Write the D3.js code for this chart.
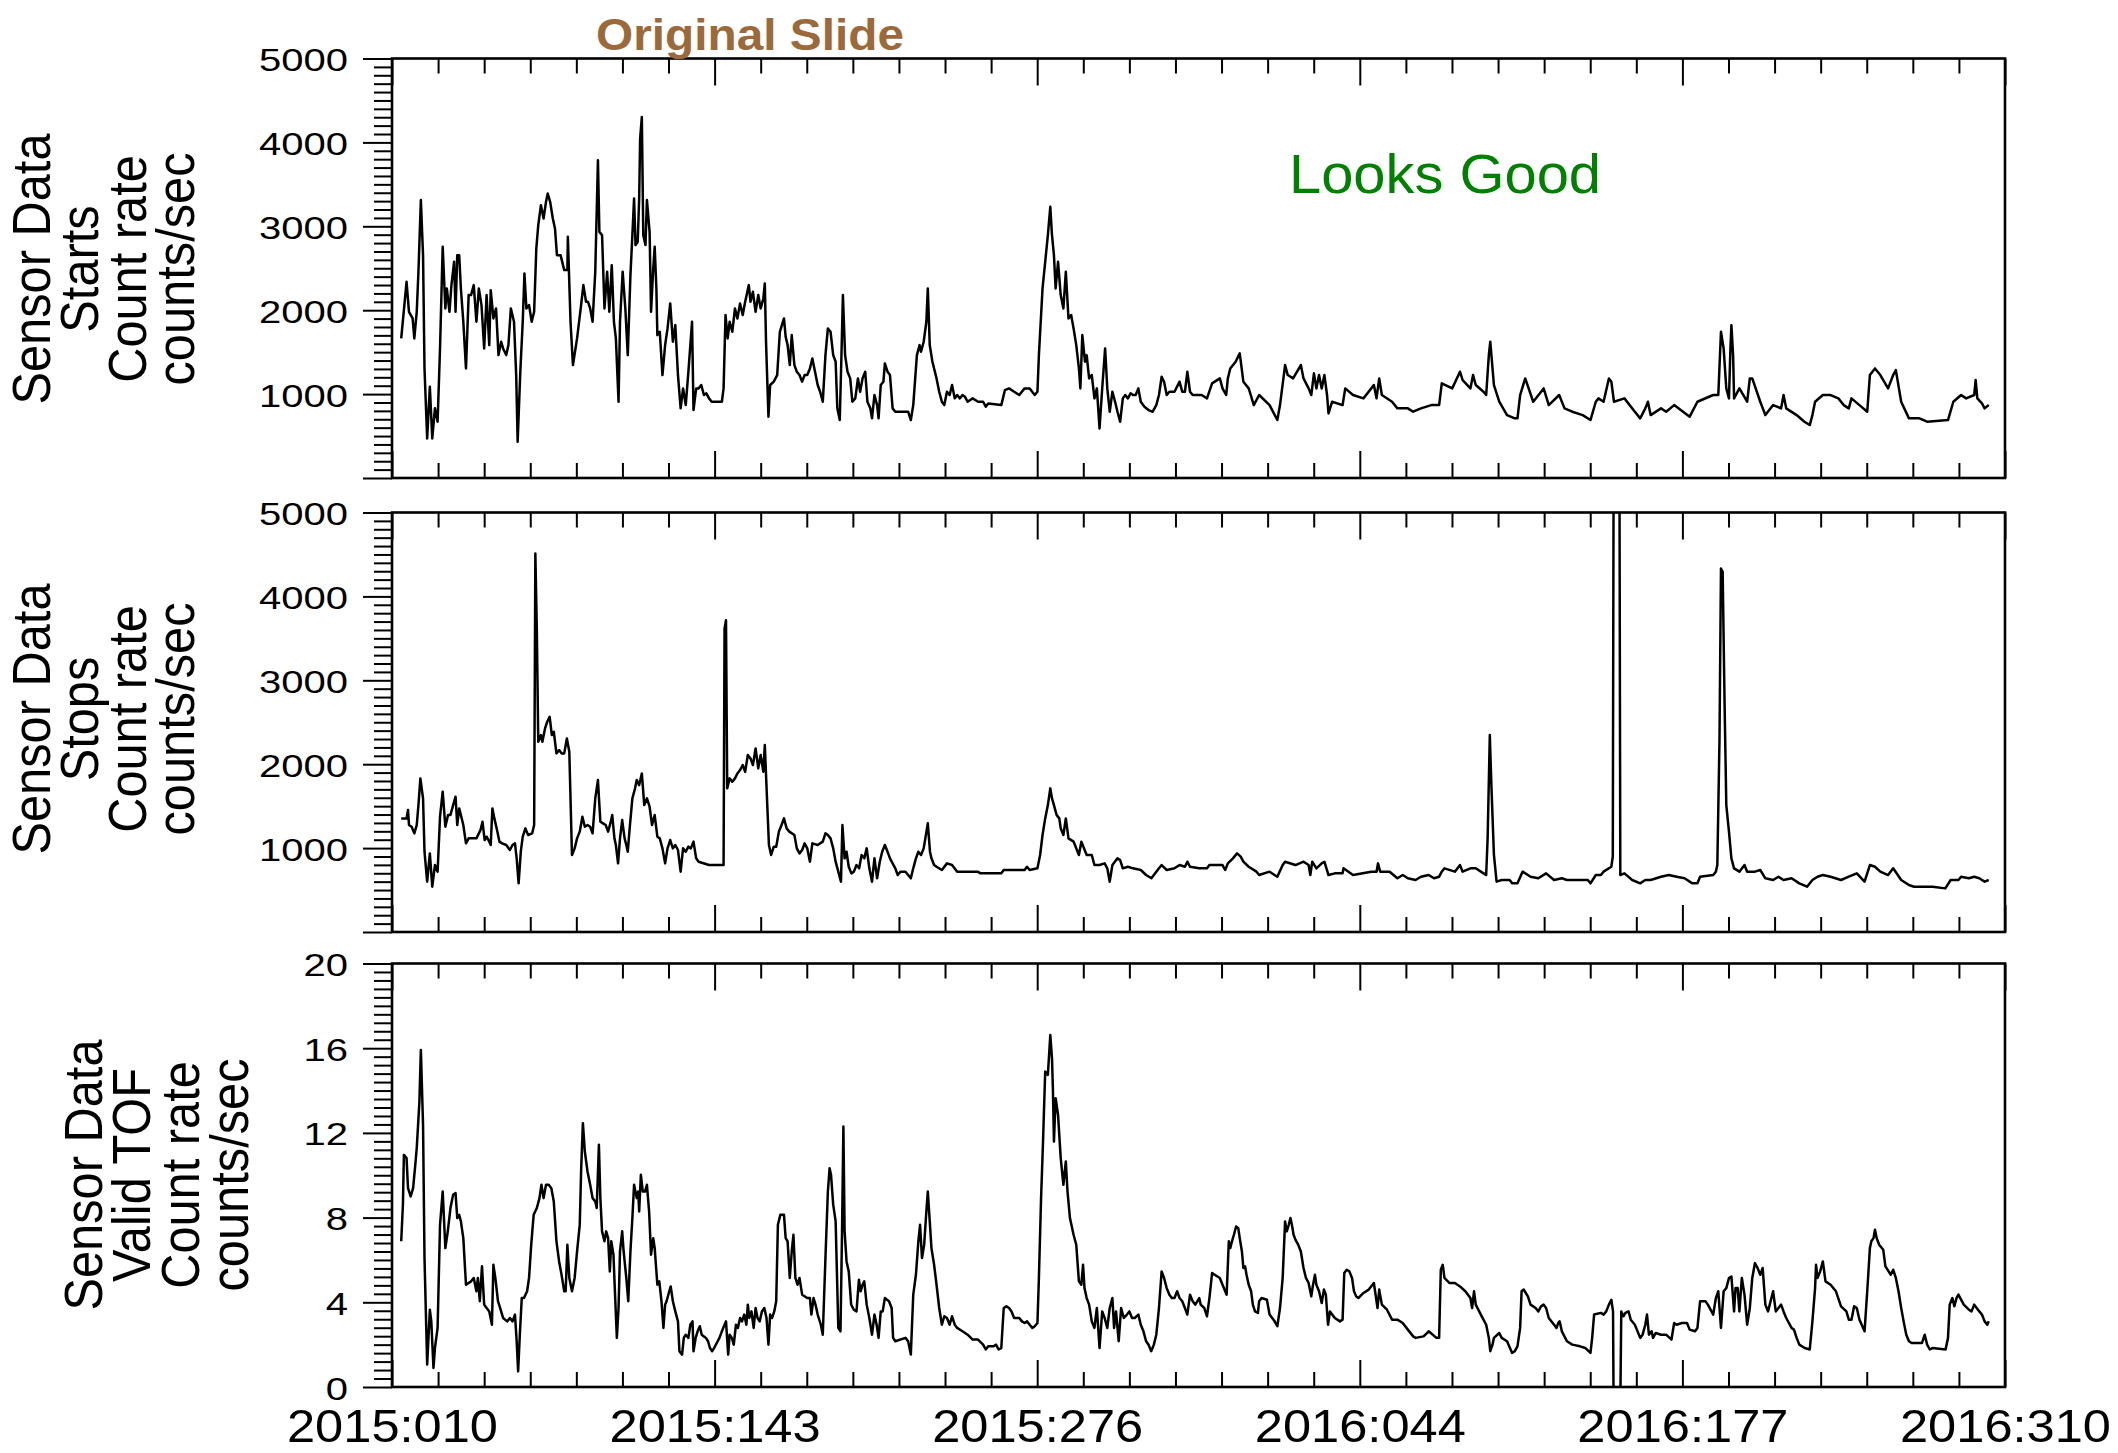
<!DOCTYPE html>
<html><head><meta charset="utf-8">
<script src="https://cdn.jsdelivr.net/npm/d3@7"></script>
<style>body{margin:0;background:#fff} svg{display:block}</style>
</head><body>
<svg id="chart" width="2118" height="1453"></svg>
<script>
// ---------- DATA (day = days since 2015:010) ----------
const xTickLabels = ["2015:010","2015:143","2015:276","2016:044","2016:177","2016:310"];
const xTickDays = [0,133,266,399,532,665];
const countTickValues = [1000,2000,3000,4000,5000];
const tofTickValues = [0,4,8,12,16,20];
const startsTitle = ["Sensor Data","Starts","Count rate","counts/sec"];
const stopsTitle = ["Sensor Data","Stops","Count rate","counts/sec"];
const tofTitle = ["Sensor Data","Valid TOF","Count rate","counts/sec"];
const slideTitle = "Original Slide";
const noteText = "Looks Good";

const starts = [[3.8,1664],[6,2339],[7,1981],[8.5,1902],[9.2,1664],[10.2,1981],[10.9,2458],[11.9,3312],[12.8,2656],[13.4,1306],[14.5,472],[15.6,1088],[16.6,472],[17.7,830],[18.8,671],[19.8,1544],[20.9,2756],[22,2021],[22.6,2259],[23.7,1981],[24.5,2299],[25.6,2577],[26.2,1981],[26.9,2656],[27.7,2656],[28.4,2259],[29.4,1862],[30.5,1306],[31.6,2180],[32.6,2180],[33.7,2299],[34.8,1862],[35.8,2259],[36.9,2061],[38,1544],[39,2180],[40.1,1584],[40.7,2239],[41.8,1902],[42.9,2021],[43.9,1465],[45,1624],[45.8,1544],[47.1,1465],[48,1584],[49,2021],[50.3,1862],[51.2,1227],[51.8,433],[52.9,1267],[53.9,1862],[54.6,2438],[55.4,2021],[56.5,2061],[57.6,1862],[58.6,1981],[59.5,2736],[60.3,3014],[61.4,3252],[62.5,3093],[63.5,3292],[64.2,3391],[65.2,3292],[66.3,3093],[67.2,2974],[68,2656],[69.5,2656],[71,2478],[72.3,2478],[72.5,2875],[73.6,1862],[74.6,1346],[76.3,1664],[77.8,2021],[78.9,2299],[80,2100],[80.8,2100],[81.7,2021],[82.7,1862],[83.8,2458],[84.9,3788],[85.5,2934],[86.6,2895],[87.6,2021],[88.7,2458],[89.6,1981],[90.6,2537],[91.5,1862],[92.3,1664],[93.4,909],[94,1862],[95.1,2458],[96.2,2021],[97.2,1465],[98.3,2418],[99.1,2895],[99.8,3332],[100.4,2776],[101.3,2815],[101.9,3332],[102.3,4046],[103,4304],[103.6,2895],[104.5,2776],[105.1,3312],[106.2,2934],[106.8,1981],[107.7,2497],[108.3,2756],[109,2259],[109.4,1703],[110.4,1743],[111.5,1227],[112.6,1584],[113.6,1783],[114.7,2081],[115.8,1624],[116.8,1822],[117.9,1227],[119,830],[120,1068],[121.1,869],[122.2,1267],[123.2,1664],[123.7,1862],[124.3,810],[125.4,1068],[126.4,1068],[127.5,1108],[128.6,989],[129.6,1009],[130.7,949],[131.8,909],[136,909],[136.7,1068],[137.5,1942],[138.4,1664],[139.2,1862],[140.3,1743],[141.4,2021],[142.4,1902],[143.5,2081],[144.6,1942],[145.6,2100],[147.1,2299],[147.8,2100],[148.8,2219],[149.9,1981],[151,2180],[152,2021],[153.1,2140],[153.7,2319],[154.2,1624],[155.2,730],[155.9,1108],[157.4,1148],[158.8,1227],[159.9,1743],[161.6,1902],[162.3,1683],[163.1,1584],[164,1346],[164.8,1703],[165.9,1346],[166.9,1267],[168,1227],[169.1,1148],[170.1,1227],[171.2,1227],[172.3,1306],[173.3,1425],[174.4,1267],[175.5,1108],[176.5,1028],[177.6,909],[178.7,1465],[179.7,1783],[180.8,1743],[181.9,1465],[182.9,1386],[183.6,830],[184.6,691],[185.3,1465],[185.9,2180],[186.8,1465],[187.8,1267],[188.9,1187],[189.8,909],[191,949],[192.1,1187],[193,1028],[194,1187],[195.1,1267],[196,909],[197.2,830],[197.9,711],[198.9,989],[200,869],[200.6,711],[201.5,1108],[202.6,1148],[203.2,1366],[204.3,1267],[205.3,1227],[206.4,830],[207.5,790],[212.8,790],[213.9,691],[214.9,869],[216.4,1465],[217.5,1584],[218.1,1505],[219.2,1624],[220.3,1862],[220.9,2259],[221.7,1584],[222.8,1386],[224.5,1187],[225.6,1028],[226.7,909],[227.7,869],[228.8,1028],[229.9,989],[230.9,1108],[232,949],[233,989],[234.1,949],[235.2,989],[236.2,969],[237.3,909],[239.4,949],[241.6,909],[243.7,909],[244.8,850],[245.8,889],[251.2,869],[252.7,1048],[254.4,1068],[256.5,1028],[258.6,989],[260.8,1068],[262.9,1068],[265,989],[266.1,1028],[266.7,1465],[268.2,2259],[269.3,2577],[270.4,2895],[271.4,3232],[272.1,2895],[272.9,2656],[273.6,2259],[274.6,2577],[275.7,2180],[276.8,2021],[277.8,2458],[278.9,1902],[280,1942],[281,1783],[282.1,1584],[283.2,1306],[283.8,1068],[284.6,1703],[285.7,1386],[286.4,1465],[287.4,1187],[288.5,1227],[289.6,949],[290.6,1068],[291.7,591],[292.8,1068],[294,1544],[294.9,1068],[295.9,790],[297,1028],[298.1,909],[299.1,790],[300.2,671],[301.3,949],[302.3,989],[303.4,949],[304.5,1009],[305.5,989],[306.6,989],[307.7,1068],[308.7,909],[310.2,850],[311.9,810],[313.6,790],[315.1,869],[316.2,989],[317.3,1207],[318.3,1148],[319.4,989],[320.5,1028],[322.6,1028],[324.7,1148],[325.8,1028],[326.9,1028],[327.9,1267],[329,1028],[330.1,989],[332.8,989],
[333.8,989],[336,949],[338.1,1128],[341.3,1187],[342.4,1068],[343.9,989],[344.6,1187],[345.6,1306],[347.8,1386],[349.5,1485],[351,1148],[353.2,1068],[355.3,869],[357.5,989],[361.8,869],[365,691],[366.1,869],[368.2,1346],[369.3,1227],[371.5,1187],[374.7,1346],[375.8,1187],[377.9,1068],[379,989],[380.1,1247],[381.1,1068],[382.2,1227],[383.3,1068],[384.4,1227],[385.5,989],[386.1,770],[387.6,909],[391.9,869],[393,1068],[396.2,989],[400.5,949],[403.7,1068],[404.8,1108],[405.9,949],[407,1187],[408.1,989],[412.3,909],[414.5,830],[418.8,830],[421,790],[424.2,830],[428.5,869],[431.7,869],[432.8,1128],[437.1,1068],[440.3,1267],[441.4,1167],[444.6,1068],[445.7,1227],[446.8,1108],[450,1028],[451.1,989],[452.2,1465],[452.8,1624],[454.3,1108],[456.5,909],[459.7,750],[462.9,711],[464,711],[465.1,989],[467.2,1187],[470.5,909],[474.8,1068],[476.9,869],[481.2,989],[483.4,830],[486.6,790],[490.9,750],[494.1,691],[496.3,909],[497.4,949],[499.5,909],[501.7,1187],[502.7,1148],[503.8,909],[508.1,949],[512.4,790],[514.6,711],[516.7,830],[517.8,909],[518.9,750],[523.2,830],[525.3,790],[528.6,869],[535,731],[538.2,909],[544.7,989],[546.8,989],[547.9,1743],[549,1544],[550.1,1068],[551.2,949],[551.8,1544],[552.2,1822],[552.9,1465],[553.3,949],[555.5,1068],[558.7,909],[559.8,1187],[560.8,1187],[564.1,909],[566.2,750],[569.4,869],[572.7,830],[573.7,989],[574.8,830],[579.1,750],[582.3,671],[584.5,631],[585.6,750],[586.7,909],[589.9,989],[593.1,989],[596.3,949],[598.5,869],[600.6,830],[601.7,949],[605,869],[608.2,790],[609.3,1227],[611.4,1306],[613.6,1227],[616.8,1068],[618.9,1227],[620,1286],[622.2,909],[625.4,711],[627.5,711],[629.7,711],[632.9,671],[641.5,691],[643.7,909],[646.9,989],[649,949],[652.3,989],[652.9,1167],[653.6,949],[655.5,889],[656.6,830],[658.3,869]];

const stops = [[3.8,1354],[6,1354],[6.6,1454],[7,1275],[8.1,1255],[9.2,1176],[10.2,1275],[10.9,1513],[11.7,1831],[12.8,1593],[13.4,957],[14.5,600],[15.6,937],[16.6,540],[17.7,798],[18.8,719],[19.8,1374],[20.9,1672],[22,1255],[23.1,1394],[24.1,1394],[25.2,1513],[26.2,1613],[26.9,1275],[27.7,1473],[28.4,1394],[29.4,1275],[30.5,1057],[31.6,1116],[34.8,1116],[36.5,1215],[37.3,1315],[38.2,1096],[39,1136],[40.1,1077],[40.7,1037],[41.4,1473],[42.2,1354],[43.3,1215],[44.3,1077],[45.4,1057],[47.1,1037],[48.6,977],[49.7,1037],[50.7,1057],[51.4,878],[52.2,580],[53.1,957],[53.9,1136],[55,1235],[56.1,1156],[57.8,1176],[58.6,1275],[59.1,4511],[59.7,3618],[60.3,2268],[61.4,2347],[62,2268],[63.1,2427],[64,2506],[65,2565],[65.9,2347],[66.7,2387],[67.8,2129],[68.9,2168],[69.9,2129],[71,2129],[72.1,2307],[73.1,2149],[74.2,918],[75.3,997],[76.3,1116],[77.4,1196],[78.5,1374],[79.5,1255],[80.6,1275],[81.7,1255],[82.7,1176],[83.8,1593],[84.9,1811],[85.9,1315],[87,1295],[88.1,1275],[89.1,1196],[90.2,1315],[90.8,1394],[91.7,1116],[92.3,1037],[93.2,818],[94,1116],[94.9,1334],[95.9,1116],[96.6,1037],[97.2,957],[98.1,1275],[99.1,1593],[100.2,1712],[100.9,1811],[101.9,1751],[103,1890],[104,1513],[105.1,1593],[106.2,1493],[107.2,1275],[108.3,1394],[109.4,1136],[110.4,1116],[111.5,997],[112.6,818],[113.6,997],[114.7,1096],[115.8,997],[116.8,1037],[117.9,977],[119,719],[120,997],[121.1,957],[122.2,1017],[123.2,997],[124.3,1077],[125.4,878],[126.4,838],[130.7,798],[136.7,798],[137.1,3618],[137.7,3717],[138.2,1712],[139.2,1831],[140.3,1791],[141.4,1831],[142.4,1890],[143.5,1930],[144.6,1990],[145.6,1910],[146.7,2109],[147.8,2069],[148.8,1990],[149.9,2188],[151,1950],[152,2109],[153.1,1910],[153.7,2228],[154.6,1593],[155.4,1037],[156.3,918],[157.4,1017],[158.4,1017],[159.5,1196],[160.6,1275],[161.6,1354],[162.7,1235],[163.8,1196],[165.9,1156],[166.9,997],[168,937],[169.1,977],[170.1,1057],[171.2,997],[172.3,838],[173.3,1057],[175.5,1037],[177.6,1077],[178.7,1176],[179.7,1156],[180.8,1116],[181.9,997],[182.9,838],[184,719],[185.1,600],[185.7,1275],[186.6,878],[187.4,957],[188.3,778],[189.4,699],[190.4,719],[191.5,798],[192.6,759],[193.6,918],[194.7,878],[195.7,997],[196.8,759],[197.9,600],[198.9,878],[200,640],[201.1,838],[202.1,957],[203.2,1037],[204.3,957],[205.3,878],[206.4,818],[207.5,759],[208.5,679],[209.6,719],[211.7,719],[213.9,640],[214.9,759],[216,878],[217,957],[218.1,918],[219.2,997],[220.9,1295],[221.8,957],[222.4,878],[223.5,798],[224.5,778],[226.7,739],[228.8,818],[230.9,798],[233,719],[241.6,719],[242.6,699],[251.2,699],[252.2,739],[260.8,739],[261.8,778],[262.9,739],[266.1,759],[267.2,918],[268.2,1156],[269.3,1354],[270.4,1513],[271.4,1712],[272.1,1593],[272.9,1513],[274,1394],[275.1,1354],[275.7,1235],[276.8,1156],[277.8,1354],[278.9,1116],[281,1077],[283.2,918],[284.2,1077],[286.4,918],[288.5,918],[289.6,798],[291.7,798],[293.8,818],[294.9,759],[295.9,600],[297,798],[299.1,878],[300.2,858],[301.3,759],[303.4,778],[305.5,759],[308.7,739],[310.9,679],[313.1,640],[314.1,679],[316.2,759],[317.3,798],[319.4,739],[322.6,759],[324.7,798],[326.9,778],[327.9,838],[329,778],[332.8,759],
[336,759],[337,798],[342.4,798],[343.5,739],[344.6,818],[346.7,878],[348.4,937],[349.9,898],[351,838],[353.2,778],[356.4,719],[357.5,679],[361.8,719],[365,659],[367.2,798],[368.2,838],[372.5,798],[375.8,838],[377.9,798],[378.6,679],[379.4,838],[381.1,759],[383.3,818],[384.4,838],[386.1,679],[388.7,699],[391.9,699],[392.3,759],[396.2,679],[403.7,719],[405.9,719],[406.5,818],[407.4,719],[411.3,719],[414.5,640],[416.7,679],[418.8,640],[422,620],[424.2,659],[427.4,679],[429.6,640],[431.7,659],[432.8,719],[433.9,759],[438.2,719],[440.3,798],[441.4,719],[444.6,759],[446.8,759],[450,699],[451.1,679],[451.7,1116],[452.6,2347],[453.2,1791],[454.3,918],[455.4,600],[457.5,620],[460.8,620],[461.8,580],[464,580],[466.1,719],[469.4,659],[472.6,640],[475.8,699],[479.1,620],[482.3,640],[484.4,620],[493,620],[494.1,580],[496.3,679],[498.4,679],[499.5,719],[502.7,778],[503.3,900],[503.9,9000],[505.8,9000],[506.4,679],[508.1,699],[511.3,620],[514.6,580],[516.7,620],[518.9,620],[523.2,659],[526.4,679],[529.6,659],[532.9,640],[536.1,580],[538.2,580],[539.3,659],[544.7,679],[545.8,719],[546.4,798],[547.3,2307],[547.9,4332],[548.6,4293],[549.4,2704],[550.1,1513],[551.2,1196],[552.2,878],[553.3,759],[555.5,719],[557.6,798],[558.7,719],[561.9,719],[564.1,739],[566.2,640],[569.4,620],[571.6,659],[573.7,620],[577,640],[580.2,580],[583.4,540],[585.6,620],[587.7,659],[589.9,679],[593.1,659],[597.4,620],[600.6,659],[603.9,699],[607.1,600],[609.3,798],[611.4,778],[613.6,719],[616.8,679],[618.9,759],[622.2,620],[625.4,560],[627.5,540],[629.7,540],[635.1,540],[640.4,520],[642.6,620],[645.8,620],[646.9,659],[650.1,640],[652.3,659],[654.4,640],[656.6,600],[658.3,620]];

const validTof = [[3.8,6.88],[4.5,8.61],[4.9,10.96],[6,10.81],[6.6,9.39],[7.7,9.0],[8.7,9.39],[9.6,10.49],[10.2,11.28],[11.3,13.48],[11.9,15.92],[12.8,12.38],[13.4,6.09],[14.5,1.06],[15.6,3.65],[16.2,3.1],[17.1,0.9],[17.7,1.84],[18.8,2.79],[19.8,7.66],[20.9,9.23],[22,6.56],[23,7.35],[24.1,8.45],[25.2,9.08],[26.2,9.16],[26.9,7.98],[27.7,8.13],[28.4,7.82],[29.4,7.03],[30.5,4.83],[32.6,4.99],[33.7,5.15],[34.8,4.52],[35.4,5.15],[36.2,4.05],[37.1,5.7],[38,3.89],[39,3.73],[40.1,3.57],[41.2,2.94],[41.8,5.77],[42.6,5.15],[43.7,4.05],[45,3.57],[45.8,3.26],[47.5,3.1],[48.6,3.26],[49.7,3.1],[50.7,3.42],[51.4,2.16],[52,0.74],[52.7,2.47],[53.5,4.2],[54.4,4.2],[55.7,4.52],[56.5,5.15],[57.4,6.72],[58.4,8.13],[59.7,8.45],[60.8,8.92],[61.6,9.55],[62.5,8.92],[63.5,9.55],[64.6,9.55],[65.7,9.39],[66.7,8.76],[67.8,6.88],[68.9,5.93],[69.9,5.3],[71,4.52],[71.6,4.52],[72.3,6.72],[73.1,5.15],[74.2,4.52],[75.3,5.15],[76.3,6.4],[77.4,7.66],[78,10.33],[78.7,12.46],[79.5,11.12],[80.6,10.18],[81.7,9.55],[82.7,8.92],[83.8,8.76],[84.4,8.45],[85.3,11.44],[85.9,8.92],[86.6,7.35],[87.6,6.88],[88.3,7.35],[89.1,7.03],[89.8,5.46],[90.4,6.88],[91.3,6.25],[91.9,4.52],[92.7,2.32],[93.4,3.73],[94,6.4],[94.9,7.35],[95.5,6.4],[96.6,5.15],[97.4,4.05],[98.3,6.4],[99.1,7.98],[99.8,9.55],[100.9,8.92],[101.5,9.23],[101.9,8.29],[102.6,10.02],[103.4,9.23],[104.3,9.23],[105.1,9.55],[106,8.29],[106.8,6.25],[107.7,7.03],[108.3,6.56],[109.4,4.83],[110.2,4.99],[111.1,4.05],[111.9,2.79],[112.6,3.89],[113.2,4.05],[114.3,4.52],[114.9,4.75],[115.8,4.05],[116.8,3.57],[117.9,3.1],[118.5,1.69],[119.6,1.53],[120.3,2.32],[121.1,2.47],[122.2,2.32],[123,2.94],[123.9,3.1],[124.3,1.69],[125.2,2.32],[126,2.63],[126.9,2.87],[127.7,2.47],[128.6,2.39],[129.4,2.32],[130.3,2.16],[131.1,1.84],[132,1.69],[132.8,1.84],[135,2.32],[136,2.63],[137.1,2.94],[137.7,3.1],[138.6,1.53],[139.2,2.47],[140.1,2.32],[140.9,2.0],[141.8,2.94],[142.6,2.79],[143.5,3.26],[144.3,3.1],[145.2,3.42],[146.1,2.94],[146.7,3.89],[147.3,3.26],[148.2,3.57],[149.1,2.79],[149.9,3.73],[150.7,3.26],[151.6,3.1],[152.5,3.57],[153.5,3.73],[154.4,3.26],[155.2,2.0],[155.9,3.42],[156.7,3.26],[157.6,3.57],[158.4,4.05],[159.1,7.66],[160.1,8.13],[161.6,8.13],[162.3,7.03],[163.1,6.88],[164,5.15],[164.8,6.4],[165.5,7.19],[166.3,5.15],[167.2,4.83],[168,5.15],[169.1,4.36],[171.2,4.2],[172.3,4.2],[172.9,3.42],[173.8,4.2],[174.6,3.89],[175.5,3.42],[176.8,2.94],[177.6,2.47],[178.7,6.09],[179.7,9.23],[180.4,10.33],[181,10.02],[181.9,8.61],[182.9,7.82],[184,2.79],[184.9,2.63],[185.5,7.03],[186.1,12.3],[186.6,7.35],[187.4,5.93],[188.3,5.46],[189.3,3.89],[190.4,3.65],[191.5,3.57],[192.5,5.07],[193.2,4.52],[194,4.83],[194.7,4.99],[195.7,3.89],[196.8,3.26],[197.9,2.47],[198.9,3.42],[199.8,2.94],[200.6,2.32],[201.5,3.57],[202.3,3.57],[203.2,4.2],[204.1,4.12],[204.9,4.05],[206,3.73],[206.6,2.32],[207.5,2.16],[211.7,2.32],[212.8,2.16],[213.9,1.53],[214.9,4.36],[216,5.3],[217,6.88],[217.7,7.66],[218.5,6.09],[219.4,6.72],[220.3,8.29],[220.9,9.23],[221.8,7.66],[222.4,6.56],[223.5,5.77],[224.5,4.83],[225.6,3.73],[226.7,2.94],[227.7,3.34],[228.8,3.26],[229.9,2.94],[230.9,3.34],[232,2.94],[233,2.79],[235.2,2.63],[237.3,2.47],[239.4,2.24],[241.6,2.24],[243.7,2.0],[244.8,1.77],[245.8,1.92],[248,1.92],[249,2.0],[250.1,1.77],[251.2,1.84],[252.2,3.73],[253.3,3.81],[254.4,3.73],[255.4,3.57],[256.5,3.26],[258.6,3.26],[259.7,3.1],[260.8,3.02],[261.8,3.1],[262.9,2.94],[264,2.79],[265,2.87],[266.1,3.02],[266.7,5.15],[267.6,8.92],[268.4,11.59],[269.3,14.9],[270.4,14.74],[271.4,16.62],[272.1,15.52],[272.5,13.95],[272.9,11.59],[273.6,13.64],[274.6,12.85],[275.7,10.81],[276.8,9.55],[277.8,10.65],[278.5,9.23],[279.5,7.98],[281,7.19],[282.1,6.72],[283.2,4.99],[284.2,4.83],[284.9,5.77],[285.5,4.67],[286.4,4.2],[287.4,3.89],[288.5,3.1],[289.6,2.79],[290.6,3.73],[291.7,1.84],[292.8,3.57],[293.8,3.26],[294.9,2.79],[295.9,3.73],[297,4.2],[297.7,2.79],[298.5,3.57],[299.6,2.16],[300.6,3.73],[301.7,3.26],[303,3.42],[304,3.57],[305.1,3.26],[306.2,3.26],[307.7,3.42],[308.7,2.94],[309.8,2.63],[310.9,2.16],[311.9,2.0],[313,1.69],[314.1,2.0],[315.1,2.47],[316.2,3.73],[317.3,5.46],[318.3,5.15],[319.4,4.67],[320.5,4.36],[321.5,4.2],[322.6,4.2],[323.7,4.52],[324.7,4.2],[325.8,4.05],[326.9,3.73],[327.9,3.42],[329,4.36],[330.1,4.05],[331.2,3.89],[332.8,4.2],
[333.4,3.89],[334.9,3.73],[336,3.34],[337,4.2],[338.1,5.38],[340.3,5.22],[341.3,5.15],[342.4,4.83],[344.1,4.36],[345,6.88],[345.6,6.56],[346.3,6.88],[347.1,7.19],[348,7.58],[348.9,7.5],[349.5,7.03],[350.4,6.4],[351,5.62],[351.7,5.7],[352.3,5.3],[353.2,4.83],[354.2,4.52],[354.9,3.89],[355.8,3.57],[357,3.5],[357.5,4.05],[358.5,4.2],[360.7,4.12],[361.8,3.42],[363.9,3.1],[365,2.87],[366.1,3.73],[367.2,5.15],[368.2,7.82],[368.9,7.35],[369.7,7.66],[370.4,7.98],[371,7.66],[371.7,7.19],[372.5,6.95],[373.6,6.72],[374.7,6.4],[375.8,5.62],[376.8,5.15],[377.9,4.91],[379,4.28],[379.6,4.75],[380.5,5.3],[381.1,4.83],[382.2,4.52],[383.3,3.97],[384.2,4.6],[385,4.36],[385.9,2.94],[386.7,3.57],[388.7,3.26],[390.8,3.1],[391.9,3.18],[392.6,5.38],[393.6,5.54],[394.7,5.46],[395.8,5.15],[396.6,4.52],[397.5,4.28],[398.4,4.2],[400.5,4.44],[402.7,4.6],[404.8,4.91],[405.5,4.36],[406.3,3.73],[407,4.6],[408.1,3.89],[410.2,3.65],[412.3,3.18],[414.5,3.18],[416.7,3.02],[418.8,2.71],[421,2.39],[422,2.32],[425.3,2.39],[427.4,2.63],[430.6,2.32],[431.7,2.32],[432.4,5.54],[433.2,5.77],[433.9,5.15],[436,4.91],[438.2,4.91],[440.3,4.75],[442.5,4.52],[444.6,4.2],[445.3,3.73],[446.1,4.52],[446.8,3.89],[448.9,3.42],[451.1,2.94],[452.2,2.32],[452.8,1.69],[453.7,2.0],[454.3,2.32],[456.5,2.55],[457.5,2.32],[459.7,2.16],[461.8,1.61],[462.9,1.69],[464,1.92],[465.1,2.79],[465.7,4.52],[466.6,4.6],[468.3,4.28],[469.4,3.89],[471.5,3.73],[472.6,3.57],[473.7,3.81],[474.8,3.89],[475.8,3.73],[476.9,3.26],[479.1,2.94],[480.1,2.79],[480.8,3.02],[481.4,3.1],[482.3,2.63],[484.4,2.16],[486.6,2.0],[489.8,1.92],[492,1.84],[494.1,1.61],[494.8,2.32],[495.6,3.42],[498.4,3.5],[499.5,3.42],[500.6,3.57],[501.7,3.89],[502.7,4.12],[503.4,3.57],[503.7,-2],[506.3,-2],[506.8,3.57],[507.7,3.34],[508.5,3.5],[509.8,3.57],[510.7,3.18],[512.4,2.94],[514.6,2.32],[515.6,2.47],[516.7,2.94],[517.4,3.42],[518.2,2.47],[519.3,2.63],[519.9,2.32],[521,2.55],[523.2,2.47],[525.3,2.47],[527.5,2.24],[528.6,3.02],[529.6,2.94],[531.8,3.02],[533.9,3.02],[535,2.71],[537.2,2.63],[538.2,2.79],[539.3,4.05],[541.5,4.05],[542.5,3.89],[544.7,3.42],[545.8,4.2],[546.8,4.52],[547.9,2.79],[549,4.52],[550.1,4.67],[551.2,5.15],[552.2,5.22],[553.3,3.57],[553.9,4.67],[554.8,4.67],[555.5,3.57],[556.5,5.15],[557.6,4.36],[558.7,2.94],[559.8,3.73],[560.8,5.15],[561.9,5.85],[563,5.62],[564.1,5.3],[565.1,5.62],[566.2,3.89],[567.3,3.57],[569.4,4.52],[570.5,3.57],[572.7,3.89],[573.7,3.57],[574.8,3.26],[577,2.79],[578,2.71],[579.1,2.32],[580.2,2.0],[582.4,1.84],[584.5,1.77],[585.6,3.1],[586.7,4.67],[587.1,5.77],[587.7,5.15],[588.8,5.46],[589.9,5.93],[591,4.99],[593.1,4.83],[595.3,4.52],[597.4,3.81],[599.6,3.57],[600.6,3.18],[601.7,3.18],[602.8,3.81],[603.9,3.73],[605,3.18],[607.1,2.63],[608.2,4.52],[609.3,6.56],[609.9,6.88],[610.8,7.03],[611.4,7.43],[612.1,7.03],[613.1,6.72],[614.8,6.48],[615.7,5.7],[617.9,5.3],[618.9,5.54],[620,5.15],[621.1,4.52],[622.2,3.73],[623.2,3.1],[624.3,2.47],[625.4,2.16],[626.5,2.08],[630.8,2.08],[631.9,2.47],[632.9,2.0],[634,1.77],[635.1,1.84],[640.5,1.77],[641.5,2.32],[642.2,3.89],[643.3,4.2],[644.1,3.81],[645,4.2],[645.8,4.36],[648,3.89],[650.1,3.65],[651.2,3.57],[652.3,3.89],[654.4,3.57],[655.5,3.42],[656.6,3.1],[657.7,2.94],[658.3,3.1]];

// ---------- LAYOUT ----------
const FONT = '"Liberation Sans", Arial, Helvetica, sans-serif';
const svg = d3.select("#chart");
svg.append("rect").attr("width",2118).attr("height",1453).attr("fill","#fff");
const x = d3.scaleLinear().domain([0,665]).range([392,2005]);

const panels = [
  {data:starts, top:58.5, bottom:478, domain:[0,5000], major:1000, minor:100, labels:countTickValues, title:startsTitle, titleX:[50,98,146,194], titleY:269},
  {data:stops, top:512.5, bottom:932, domain:[0,5000], major:1000, minor:100, labels:countTickValues, title:stopsTitle, titleX:[50,98,146,194], titleY:719},
  {data:validTof, top:963.5, bottom:1387, domain:[0,20], major:4, minor:0.4, labels:tofTickValues, title:tofTitle, titleX:[102,150,199,248], titleY:1175}
];

function stretch(sel, factor){
  sel.each(function(){
    const n=this.getComputedTextLength();
    d3.select(this).attr("textLength", n*factor).attr("lengthAdjust","spacingAndGlyphs");
  });
}

const xMinor = d3.range(0,666,19).filter(d=>d%133!==0);

panels.forEach((p,i)=>{
  const y = d3.scaleLinear().domain(p.domain).range([p.bottom,p.top]);
  const g = svg.append("g");
  const cid = "clip"+i;
  svg.append("clipPath").attr("id",cid).append("rect")
    .attr("x",x.range()[0]).attr("y",p.top).attr("width",x.range()[1]-x.range()[0]).attr("height",p.bottom-p.top);

  const line = d3.line().x(d=>x(d[0])).y(d=>y(d[1]));
  g.append("path").datum(p.data).attr("clip-path",`url(#${cid})`)
    .attr("fill","none").attr("stroke","#000").attr("stroke-width",2.5).attr("stroke-linejoin","round")
    .attr("d",line);

  // y minor ticks (outward, left)
  const n = Math.round((p.domain[1]-p.domain[0])/p.minor);
  const yMinor = d3.range(0,n+1).map(k=>p.domain[0]+k*p.minor).filter((v,k)=>k%10!==0);
  g.append("g").attr("transform","translate(392,0)")
    .call(d3.axisLeft(y).tickValues(yMinor).tickSize(18).tickFormat(""))
    .call(s=>s.select(".domain").remove())
    .call(s=>s.selectAll("line").attr("stroke","#000").attr("stroke-width",2));
  const yMajor = d3.range(p.domain[0], p.domain[1]+p.major/2, p.major);
  const ya = g.append("g").attr("transform","translate(392,0)")
    .call(d3.axisLeft(y).tickValues(yMajor).tickSize(29).tickPadding(15)
      .tickFormat(d=>p.labels.includes(d)?String(d):""))
    .call(s=>s.select(".domain").remove())
    .call(s=>s.selectAll("line").attr("stroke","#000").attr("stroke-width",2));
  ya.attr("font-family",FONT).attr("font-size",31);
  ya.selectAll("text").attr("fill","#000").attr("dy","0.39em");
  stretch(ya.selectAll("text").filter(function(){return this.textContent!=="";}), 1.29);

  // x ticks top (inward) and bottom (inward)
  [["top",p.top,d3.axisTop],["bottom",p.bottom,d3.axisBottom]].forEach(([side,yy,ax])=>{
    g.append("g").attr("transform",`translate(0,${yy})`)
      .call(ax(x).tickValues(xMinor).tickSize(-15).tickFormat(""))
      .call(s=>s.select(".domain").remove())
      .call(s=>s.selectAll("line").attr("stroke","#000").attr("stroke-width",2));
    const showLabels = (i===2 && side==="bottom");
    const xa = g.append("g").attr("transform",`translate(0,${yy})`)
      .call(ax(x).tickValues(xTickDays).tickSize(-27).tickPadding(22)
        .tickFormat((d,k)=>showLabels?xTickLabels[k]:""))
      .call(s=>s.select(".domain").remove())
      .call(s=>s.selectAll("line").attr("stroke","#000").attr("stroke-width",2));
    if(showLabels){
      xa.attr("font-family",FONT).attr("font-size",46);
      xa.selectAll("text").attr("fill","#000");
      stretch(xa.selectAll("text"), 1.1);
    }
  });

  // frame
  g.append("rect").attr("x",x.range()[0]).attr("y",p.top)
    .attr("width",x.range()[1]-x.range()[0]).attr("height",p.bottom-p.top)
    .attr("fill","none").attr("stroke","#000").attr("stroke-width",2.6);

  // y title
  p.title.forEach((t,k)=>{
    const tx = g.append("text")
      .attr("transform",`translate(${p.titleX[k]},${p.titleY}) rotate(-90)`)
      .attr("text-anchor","middle").attr("font-family",FONT).attr("font-size",53)
      .attr("fill","#000").text(t);
    stretch(tx, 0.92);
  });
});

// headings
const t1 = svg.append("text").attr("x",750).attr("y",50).attr("text-anchor","middle")
  .attr("font-family",FONT).attr("font-weight","bold").attr("font-size",45)
  .attr("fill","#9c6a3a").text(slideTitle);
t1.attr("textLength",308).attr("lengthAdjust","spacingAndGlyphs");
const t2 = svg.append("text").attr("x",1445).attr("y",193).attr("text-anchor","middle")
  .attr("font-family",FONT).attr("font-size",56)
  .attr("fill","#008000").text(noteText);
t2.attr("textLength",312).attr("lengthAdjust","spacingAndGlyphs");
</script>
</body></html>
